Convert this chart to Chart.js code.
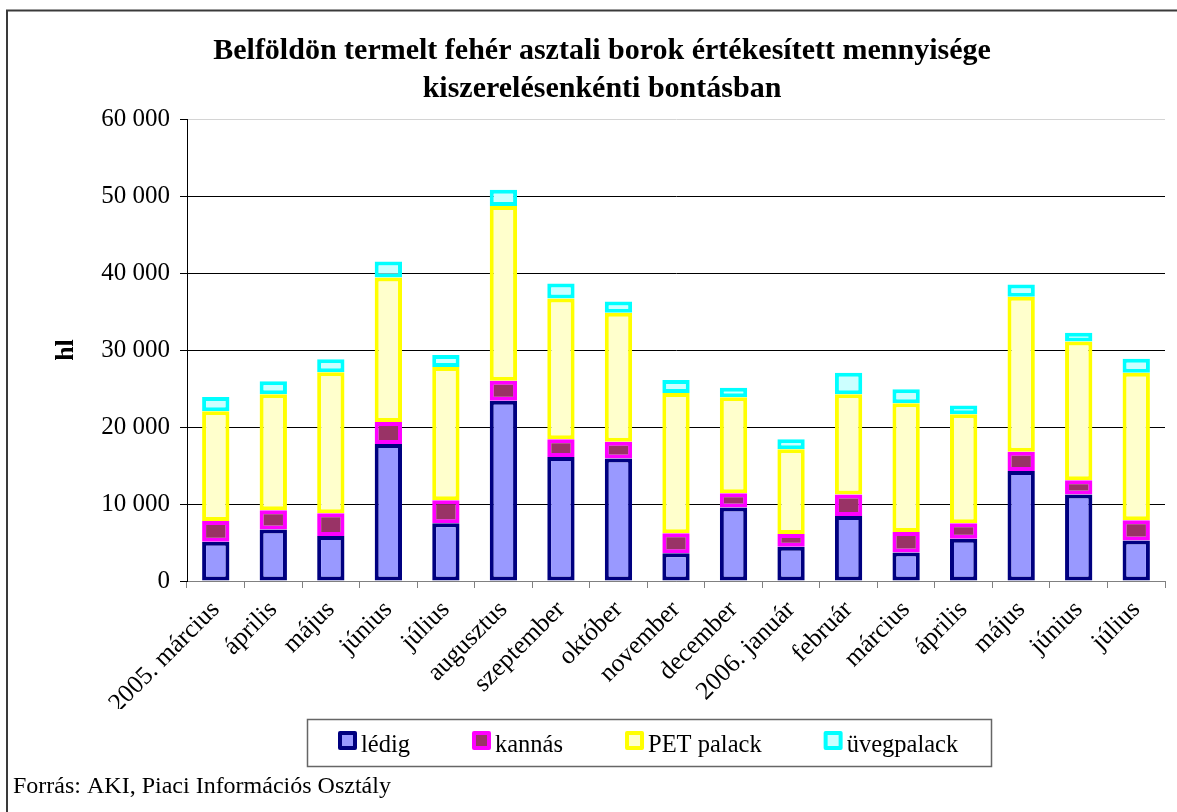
<!DOCTYPE html>
<html lang="hu">
<head>
<meta charset="utf-8">
<title>Belföldön termelt fehér asztali borok</title>
<script src="https://cdn.jsdelivr.net/npm/chart.js@4.4.1/dist/chart.umd.min.js"></script>
<style>
  html, body { margin: 0; padding: 0; background: #fff; }
  #wrap { width: 1177px; height: 812px; position: relative; }
</style>
</head>
<body>
<div id="wrap"><canvas id="chart" width="1177" height="812"></canvas></div>
<script>
// havi kategóriák
const months = ['2005. március', 'április', 'május', 'június', 'július', 'augusztus',
  'szeptember', 'október', 'november', 'december', '2006. január', 'február',
  'március', 'április', 'május', 'június', 'július'];

// hl, leolvasva az ábráról
const ledig = [5100, 6700, 5850, 17800, 7500, 23400, 16100, 15900, 3600, 9550, 4450, 8450, 3700, 5500, 14300, 11250, 5250];
const kannas = [2700, 2500, 2950, 2850, 3000, 2600, 2300, 2200, 2600, 1850, 1650, 2800, 2650, 2000, 2500, 1850, 2650];
const petPalack = [14250, 15050, 18300, 18750, 17300, 22700, 18300, 16750, 18200, 12450, 11000, 13000, 16750, 14150, 20100, 18000, 19150];
const uvegPalack = [1850, 1700, 1700, 2100, 1550, 2100, 1950, 1450, 1700, 1250, 1300, 2800, 1800, 1150, 1600, 1150, 1800];

const yTicks = [0, 10000, 20000, 30000, 40000, 50000, 60000];

const FONT = "'Liberation Serif', 'Times New Roman', serif";

function thousands(v) {
  return String(v).replace(/\B(?=(\d{3})+(?!\d))/g, ' ');
}

function series(label, data, fill, edge) {
  return {
    label: label,
    data: data,
    backgroundColor: fill,
    borderColor: edge,
    borderWidth: 4,
    borderSkipped: false,
    barPercentage: 0.475,
    categoryPercentage: 1.0
  };
}

/**
 * Keret, jelmagyarázat és forrás felirat
 */
const decorations = {
  id: 'decorations',
  afterDraw(chart) {
    const ctx = chart.ctx;
    ctx.save();

    // külső keret (bal és felső él)
    ctx.strokeStyle = '#3a3a3a';
    ctx.lineWidth = 2;
    ctx.beginPath();
    ctx.moveTo(7, 812);
    ctx.lineTo(7, 10.5);
    ctx.lineTo(1177, 10.5);
    ctx.stroke();

    // jelmagyarázat
    ctx.strokeStyle = '#666';
    ctx.lineWidth = 1.5;
    ctx.strokeRect(307.5, 719.5, 684, 47);

    ctx.font = '24.5px ' + FONT;
    ctx.textBaseline = 'alphabetic';
    let x = 338;
    chart.data.datasets.forEach(ds => {
      ctx.fillStyle = ds.borderColor;
      ctx.beginPath();
      ctx.roundRect(x, 731, 19, 19, 2);
      ctx.fill();
      ctx.fillStyle = ds.backgroundColor;
      ctx.fillRect(x + 4, 735, 11, 11);
      ctx.fillStyle = '#000';
      ctx.fillText(ds.label, x + 23, 752);
      x += 23 + ctx.measureText(ds.label).width + 62;
    });

    // forrás
    ctx.font = '24px ' + FONT;
    ctx.fillStyle = '#000';
    ctx.fillText('Forrás: AKI, Piaci Információs Osztály', 13, 793);
    ctx.restore();
  }
};

new Chart(document.getElementById('chart'), {
  type: 'bar',
  data: {
    labels: months,
    datasets: [
      series('lédig', ledig, '#9999FF', '#000080'),
      series('kannás', kannas, '#993366', '#FF00FF'),
      series('PET palack', petPalack, '#FFFFCC', '#FFFF00'),
      series('üvegpalack', uvegPalack, '#CCFFFF', '#00FFFF')
    ]
  },
  options: {
    responsive: false,
    animation: false,
    layout: { padding: { left: 39, right: 12, top: 10, bottom: 103 } },
    plugins: {
      legend: { display: false },
      tooltip: { enabled: false },
      title: {
        display: true,
        text: ['Belföldön termelt fehér asztali borok értékesített mennyisége',
               'kiszerelésenkénti bontásban'],
        color: '#000',
        font: { family: FONT, size: 30, weight: 'bold', lineHeight: '38px' },
        padding: { top: 22, bottom: 11 }
      }
    },
    scales: {
      x: {
        stacked: true,
        afterFit: s => { s.height = 128; },
        grid: {
          display: true, drawOnChartArea: false, offset: true,
          color: '#808080', tickLength: 7
        },
        border: { color: '#808080', width: 1 },
        ticks: {
          autoSkip: false, minRotation: 45, maxRotation: 45,
          color: '#000', padding: 7,
          font: { family: FONT, size: 25.5 }
        }
      },
      y: {
        stacked: true,
        min: 0,
        max: 60000,
        afterFit: s => { s.width = 148; },
        afterBuildTicks: s => { s.ticks = yTicks.map(v => ({ value: v })); },
        grid: {
          color: c => (c.tick && c.tick.value === 60000) ? '#d4d4d4'
                    : (c.tick && c.tick.value === 0) ? '#808080' : '#000',
          tickColor: '#000',
          tickLength: 7
        },
        border: { color: '#000', width: 1 },
        ticks: {
          color: '#000', padding: 10,
          font: { family: FONT, size: 25 },
          callback: v => thousands(v)
        },
        title: {
          display: true, text: 'hl', color: '#000',
          font: { family: FONT, size: 26, weight: 'bold' },
          padding: { top: 12, bottom: 0 }
        }
      }
    }
  },
  plugins: [decorations]
});
</script>
</body>
</html>
